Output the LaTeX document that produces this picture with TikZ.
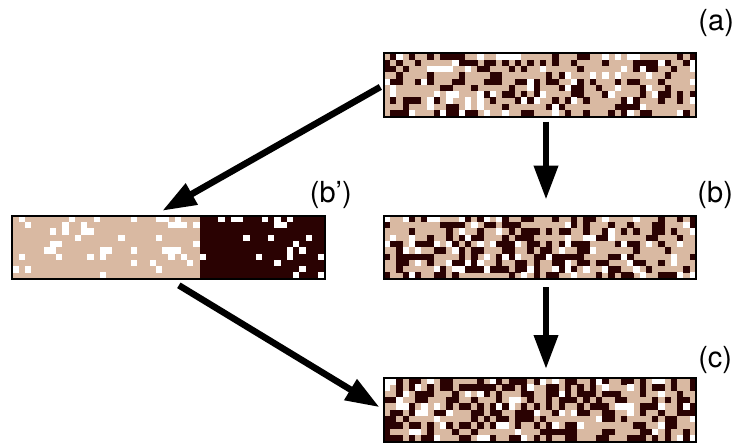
\documentclass[tikz,border=0pt]{standalone}
\usepackage{fontspec}
\setmainfont{TeX Gyre Heros}
\usepackage{tikz}
\usetikzlibrary{arrows.meta,positioning}
\definecolor{sand}{HTML}{D9B9A2}
\definecolor{umber}{HTML}{2A0202}
\tikzset{
    %Define style for the pixel strips
    strip/.style={
           rectangle,
           inner sep=0pt,
           minimum width=312pt,
           minimum height=63pt,
           fill=sand},
    frame/.style={draw=black, line width=2pt},
    %Define style for the labels
    tag/.style={font=\fontsize{29}{32}\selectfont},
    % Define arrow style
    pil/.style={
           line width=6.5pt,
           -{Triangle[width=23pt,length=34pt]}}
}
% random pixels: node, first col, last col, p(white), p(white)+p(dark)
\newcommand{\fillpixels}[5]{%
  \foreach \i in {#2,...,#3}{
    \foreach \j in {0,...,9}{
      \pgfmathsetmacro{\r}{rnd}
      \ifdim\r pt<#4pt
        \fill[white] ([shift={(\i*6.24,\j*6.3)}]#1.north west) rectangle +(6.34,6.4);
      \else\ifdim\r pt<#5pt
        \fill[umber] ([shift={(\i*6.24,\j*6.3)}]#1.north west) rectangle +(6.34,6.4);
      \fi\fi
    }}}

\begin{document}
\begin{tikzpicture}[x=1pt,y=-1pt]
\useasboundingbox (0,0) rectangle (736,444);

\node[strip] (a) at (540,85) {};
\node[strip, below=99pt of a] (b) {};
\node[strip, below=99pt of b] (c) {};
\node[strip, left=59pt of b] (bp) {};

\pgfmathsetseed{7}
\fillpixels{a}{0}{49}{0.13}{0.40}
\pgfmathsetseed{23}
\fillpixels{b}{0}{49}{0.12}{0.47}
\pgfmathsetseed{41}
\fillpixels{bp}{0}{29}{0.15}{0.15}
\fillpixels{bp}{30}{49}{0.11}{1.0}
\pgfmathsetseed{59}
\fillpixels{c}{0}{49}{0.12}{0.50}

\foreach \n in {a,b,c,bp}
  \draw[frame] (\n.north west) rectangle (\n.south east);

\node[tag] (la) at ([xshift=20pt,yshift=30pt]a.north east) {(a)};
\node[tag] (lb) at ([xshift=19pt,yshift=21pt]b.north east) {(b)};
\node[tag] (lbp) at ([xshift=6pt,yshift=21pt]bp.north east) {(b')};
\node[tag] (lc) at ([xshift=19pt,yshift=18pt]c.north east) {(c)};

\draw[pil, shorten <=5pt, shorten >=16pt] ([xshift=6pt]a.south) -- ([xshift=6pt]b.north);
\draw[pil, shorten <=8pt, shorten >=9pt] ([xshift=6pt]b.south) -- ([xshift=6pt]c.north);
\draw[pil, shorten <=4pt, shorten >=10pt] (a.west) -- ([xshift=-15pt]bp.north);
\draw[pil, shorten <=12pt, shorten >=5pt] (bp.south) -- (c.west);
\end{tikzpicture}
\end{document}
